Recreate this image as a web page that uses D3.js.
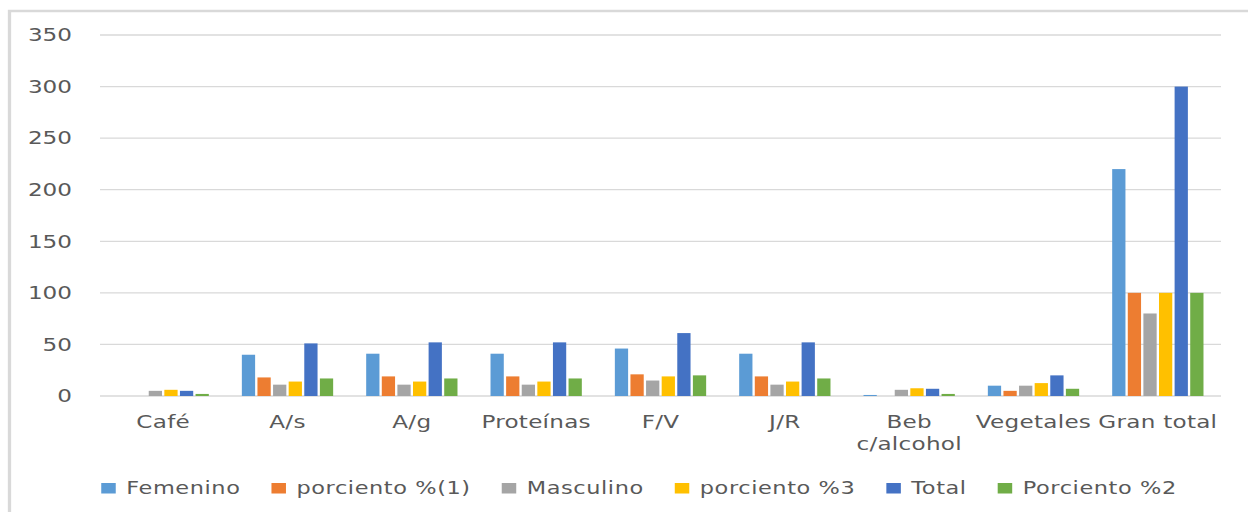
<!DOCTYPE html>
<html>
<head>
<meta charset="utf-8">
<script src="https://cdn.jsdelivr.net/npm/d3@7"></script>
<style>
  body { margin: 0; background: #ffffff; }
  svg { display: block; }
</style>
</head>
<body>
<script>
// categories (a "|" marks a line break in the axis label)
const categories = ["Café", "A/s", "A/g", "Proteínas", "F/V", "J/R", "Beb|c/alcohol", "Vegetales", "Gran total"];

// series values
const femenino   = [0, 40, 41, 41, 46, 41, 1, 10, 220];
const porciento1 = [0, 18, 19, 19, 21, 19, 0, 5, 100];
const masculino  = [5, 11, 11, 11, 15, 11, 6, 10, 80];
const porciento3 = [6, 14, 14, 14, 19, 14, 7.5, 12.5, 100];
const total      = [5, 51, 52, 52, 61, 52, 7, 20, 300];
const porciento2 = [2, 17, 17, 17, 20, 17, 2, 7, 100];

const seriesNames = ["Femenino", "porciento %(1)", "Masculino", "porciento %3", "Total", "Porciento %2"];
const seriesValues = [femenino, porciento1, masculino, porciento3, total, porciento2];
const seriesColors = ["#5b9bd5", "#ed7d31", "#a5a5a5", "#ffc000", "#4472c4", "#70ad47"];

const yTicks = [0, 50, 100, 150, 200, 250, 300, 350];

// the picture is stretched sideways, so draw in a narrower box and stretch it
const width = 1248, height = 512;
const S = 1.32;
const sx = px => px / S;

const svg = d3.select("body")
  .append("svg")
  .attr("width", width)
  .attr("height", height)
  .attr("viewBox", `0 0 ${width / S} ${height}`)
  .attr("preserveAspectRatio", "none")
  .style("font-family", "'DejaVu Sans', sans-serif");

// frame (only top and left edges are visible)
svg.append("path")
  .attr("d", `M${sx(9.5)},${height} V11 H${width / S}`)
  .attr("fill", "none")
  .attr("stroke", "#d9d9d9")
  .attr("stroke-width", 2.5);

const plot = { left: 101, right: 1220, top: 35, bottom: 396 };

const y = d3.scaleLinear()
  .domain([0, 350])
  .range([plot.bottom, plot.top]);

const x0 = d3.scaleBand()
  .domain(categories)
  .range([sx(plot.left), sx(plot.right)])
  .paddingInner(0.228)
  .paddingOuter(0.114);

const x1 = d3.scaleBand()
  .domain(seriesNames)
  .range([0, x0.bandwidth()])
  .padding(0.15);

// gridlines
svg.append("g")
  .selectAll("line")
  .data(yTicks)
  .join("line")
  .attr("x1", sx(plot.left - 1))
  .attr("x2", sx(plot.right + 1))
  .attr("y1", d => y(d))
  .attr("y2", d => y(d))
  .attr("stroke", "#d9d9d9")
  .attr("stroke-width", 1.3);

// y tick labels
svg.append("g")
  .selectAll("text")
  .data(yTicks)
  .join("text")
  .attr("x", sx(72))
  .attr("y", d => y(d))
  .attr("dy", "0.36em")
  .attr("text-anchor", "end")
  .style("font-size", "17.5px")
  .style("fill", "#595959")
  .text(d => d);

// bars
const groups = svg.append("g")
  .selectAll("g")
  .data(categories)
  .join("g")
  .attr("transform", d => `translate(${x0(d)},0)`);

groups.selectAll("rect")
  .data((d, i) => seriesNames.map((name, k) => ({ name, value: seriesValues[k][i], color: seriesColors[k] })))
  .join("rect")
  .attr("x", d => x1(d.name))
  .attr("width", x1.bandwidth())
  .attr("y", d => y(d.value))
  .attr("height", d => y(0) - y(d.value))
  .attr("fill", d => d.color);

// category labels
const xLabels = svg.append("g")
  .selectAll("text")
  .data(categories)
  .join("text")
  .attr("x", d => x0(d) + x0.bandwidth() / 2)
  .attr("y", 428)
  .attr("text-anchor", "middle")
  .style("font-size", "17.5px")
  .style("letter-spacing", "0.2px")
  .style("fill", "#595959");

xLabels.selectAll("tspan")
  .data(d => d.split("|"))
  .join("tspan")
  .attr("x", function () { return d3.select(this.parentNode).attr("x"); })
  .attr("dy", (d, i) => i === 0 ? 0 : 22)
  .text(d => d);

// legend
const legend = svg.append("g");
const items = legend.selectAll("g")
  .data(seriesNames)
  .join("g");

items.append("rect")
  .attr("y", 483)
  .attr("width", sx(14.5))
  .attr("height", 10.5)
  .attr("fill", (d, i) => seriesColors[i]);

items.append("text")
  .attr("x", sx(25))
  .attr("y", 488)
  .attr("dy", "0.36em")
  .style("font-size", "17px")
  .style("letter-spacing", "0.45px")
  .style("fill", "#595959")
  .text(d => d);

let cursor = 0;
items.each(function () {
  const g = d3.select(this);
  g.attr("transform", `translate(${cursor},0)`);
  cursor += sx(25) + g.select("text").node().getComputedTextLength() + sx(31);
});
const legendWidth = cursor - sx(31);
legend.attr("transform", `translate(${sx(639) - legendWidth / 2},0)`);
</script>
</body>
</html>
